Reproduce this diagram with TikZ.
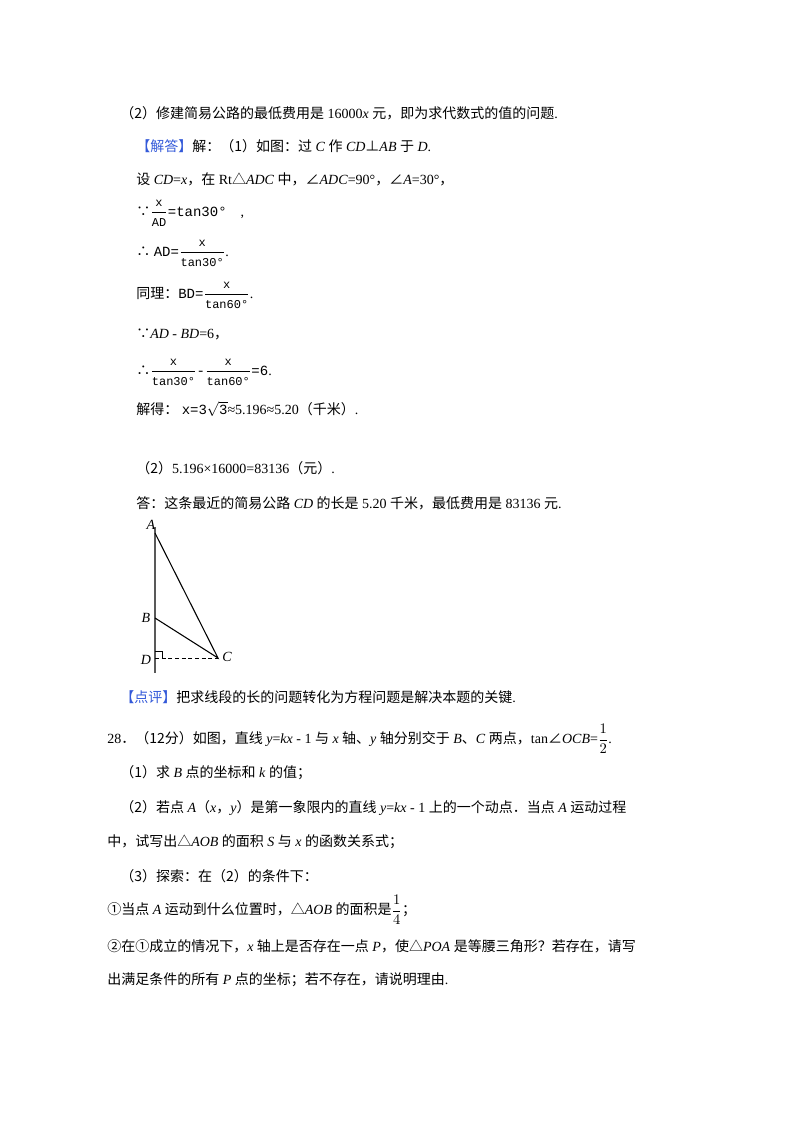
\documentclass[tikz,border=0pt]{standalone}
\usepackage{fontspec}
\setmainfont{Liberation Serif}
\setmonofont{Liberation Mono}
\newfontfamily\cjk{Noto Sans CJK SC}
\newcommand{\zh}[1]{{\cjk #1}}
\newcommand{\tm}[1]{\texttt{#1}}
\newcommand{\tfr}[2]{$\displaystyle\frac{\mbox{\small\tm{#1}}}{\mbox{\small\tm{#2}}}$}
\begin{document}
\begin{tikzpicture}[x=0.75pt,y=-0.75pt,
  txt/.style={anchor=west,inner sep=0pt,font=\fontsize{10.5}{12}\selectfont},
  lbl/.style={inner sep=0pt,font=\fontsize{10.5}{12}\selectfont\itshape}]
\useasboundingbox[fill=white] (0,0) rectangle (800,1132);
\node[txt] (l1) at (120,113) {\zh{（2）修建简易公路的最低费用是} 16000\textit{x} \zh{元，即为求代数式的值的问题}.};
\node[txt] (l2) at (136,146) {\zh{\color[rgb]{0.2,0.35,0.85}【解答】}\zh{解：（1）如图：过} \textit{C} \zh{作} \textit{CD}\zh{⊥}\textit{AB} \zh{于} \textit{D}.};
\node[txt] (l3) at (136,179) {\zh{设} \textit{CD}=\textit{x}\zh{，在} Rt\zh{△}\textit{ADC} \zh{中，}\zh{∠}\textit{ADC}=90°\zh{，}\zh{∠}\textit{A}=30°\zh{，}};
\node[txt] (l4) at (136,213) {\zh{∵}\tfr{x}{AD}\tm{=tan30°}\quad ,};
\node[txt] (l5) at (136,253) {\zh{∴} \tm{AD=}\tfr{x}{tan30°}.};
\node[txt] (l6) at (136,295) {\zh{同理：}\tm{BD=}\tfr{x}{tan60°}.};
\node[txt] (l7) at (136,334) {\zh{∵}\textit{AD} - \textit{BD}=6\zh{，}};
\node[txt] (l8) at (136,372) {\zh{∴}\tfr{x}{tan30°}\tm{-}\tfr{x}{tan60°}\tm{=6}.};
\node[txt] (l9) at (136,409) {\zh{解得：} \tm{x=3}$\sqrt{\mbox{\tm{3}}}$≈5.196≈5.20\zh{（千米）}.};
\node[txt] (l10) at (136,468) {\zh{（2）}5.196×16000=83136\zh{（元）}.};
\node[txt] (l11) at (136,503) {\zh{答：这条最近的简易公路} \textit{CD} \zh{的长是} 5.20 \zh{千米，最低费用是} 83136 \zh{元}.};
% diagram
\coordinate (A) at (155,533);
\coordinate (B) at (155,618);
\coordinate (D) at (155,658);
\coordinate (C) at (218,658);
\draw[gray!70!black,line width=1.5pt] (155,527) -- (155,673);
\draw[thick] (A) -- (C) -- (B);
\draw[densely dashed] (D) -- (C);
\draw (155,651) -- (162,651) -- (162,658);
\node[lbl] (nA) at (151,525) {A};
\node[lbl] (nB) at (146,618) {B};
\node[lbl] (nD) at (146,660) {D};
\node[lbl] (nC) at (227,657) {C};
\node[txt] (l12) at (120,697) {\zh{\color[rgb]{0.2,0.35,0.85}【点评】}\zh{把求线段的长的问题转化为方程问题是解决本题的关键}.};
\node[txt] (l13) at (107,739) {28\zh{．（12分）如图，直线} \textit{y}=\textit{kx} - 1 \zh{与} \textit{x} \zh{轴、}\textit{y} \zh{轴分别交于} \textit{B}\zh{、}\textit{C} \zh{两点，}tan\zh{∠}\textit{OCB}=$\displaystyle\frac{1}{2}$.};
\node[txt] (l14) at (120,773) {\zh{（1）求} \textit{B} \zh{点的坐标和} \textit{k} \zh{的值；}};
\node[txt] (l15) at (120,808) {\zh{（2）若点} \textit{A}\zh{（}\textit{x}\zh{，}\textit{y}\zh{）是第一象限内的直线} \textit{y}=\textit{kx} - 1 \zh{上的一个动点．当点} \textit{A} \zh{运动过程}};
\node[txt] (l16) at (107,842) {\zh{中，试写出△}\textit{AOB} \zh{的面积} \textit{S} \zh{与} \textit{x} \zh{的函数关系式；}};
\node[txt] (l17) at (120,876) {\zh{（3）探索：在（2）的条件下：}};
\node[txt] (l18) at (107,910) {\zh{①当点} \textit{A} \zh{运动到什么位置时，△}\textit{AOB} \zh{的面积是}$\displaystyle\frac{1}{4}$\zh{；}};
\node[txt] (l19) at (107,946) {\zh{②在①成立的情况下，}\textit{x} \zh{轴上是否存在一点} \textit{P}\zh{，使△}\textit{POA} \zh{是等腰三角形？若存在，请写}};
\node[txt] (l20) at (107,980) {\zh{出满足条件的所有} \textit{P} \zh{点的坐标；若不存在，请说明理由}.};
\end{tikzpicture}
\end{document}
